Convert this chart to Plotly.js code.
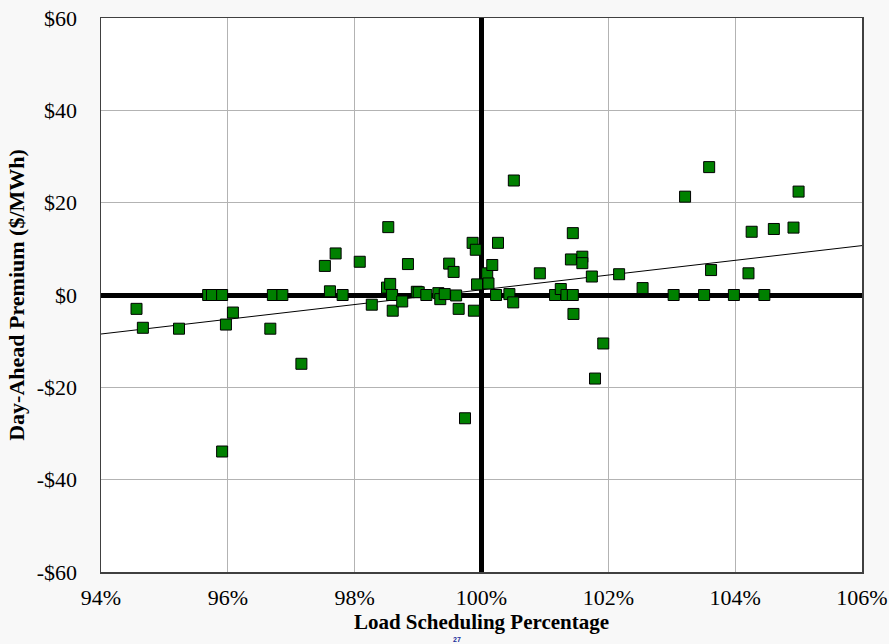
<!DOCTYPE html>
<html>
<head>
<meta charset="utf-8">
<script src="https://cdn.plot.ly/plotly-3.0.1.min.js"></script>
<style>html,body{margin:0;padding:0;background:#f8f8f8;}#chart{width:889px;height:644px;}</style>
</head>
<body>
<div id="chart"></div>
<script>
// Load scheduling percentage (%) for each observation
const loadPct = [94.56, 94.66, 95.23, 95.69, 95.75, 95.91, 95.97, 96.08, 95.91, 96.67,
  96.71, 96.86, 97.16, 97.53, 97.70, 97.61, 97.81, 98.08, 98.27, 98.53,
  98.51, 98.56, 98.59, 98.60, 98.75, 98.84, 98.98, 99.01, 99.13, 99.32,
  99.35, 99.42, 99.49, 99.56, 99.60, 99.64, 99.74, 99.86, 99.88, 99.91,
  99.93, 100.09, 100.11, 100.17, 100.23, 100.26, 100.44, 100.50, 100.51, 100.92,
  101.16, 101.25, 101.34, 101.44, 101.44, 101.41, 101.45, 101.59, 101.59, 101.74,
  101.79, 101.92, 102.17, 102.54, 103.03, 103.21, 103.51, 103.59, 103.62, 103.98,
  104.21, 104.26, 104.46, 104.61, 104.92, 105.00];
// Day-ahead premium ($/MWh)
const premium = [-3.0, -7.1, -7.3, 0, 0, 0, -6.4, -3.8, -33.9, -7.3,
  0, 0, -14.9, 6.3, 9.0, 0.8, 0, 7.2, -2.1, 14.7,
  1.6, 2.4, 0, -3.4, -1.4, 6.7, 0.7, 0.6, 0, 0.4,
  -0.9, 0.2, 6.8, 5.0, -0.1, -3.0, -26.7, 11.3, -3.4, 9.8,
  2.3, 4.7, 2.5, 6.5, 0, 11.3, 0.2, -1.6, 24.8, 4.7,
  0, 1.3, 0, 0, 13.4, 7.7, -4.1, 8.3, 6.9, 4.0,
  -18.1, -10.5, 4.5, 1.5, 0, 21.3, 0, 27.7, 5.4, 0,
  4.7, 13.7, 0, 14.3, 14.6, 22.4];
// Linear trend line endpoints
const trendX = [94, 106];
const trendY = [-8.45, 10.7];
// Reference line at 100% scheduling, spanning the value axis
const refX = [100, 100];
const refY = [-60, 60];
// Axis ticks
const xTickVals = [94, 96, 98, 100, 102, 104, 106];
const xTickText = ["94%", "96%", "98%", "100%", "102%", "104%", "106%"];
const yTickVals = [-60, -40, -20, 0, 20, 40, 60];
const yTickText = ["-$60", "-$40", "-$20", "$0", "$20", "$40", "$60"];

const serif = "Liberation Serif, Times New Roman, serif";

const traces = [
  {x: refX, y: refY, type: 'scatter', mode: 'lines',
   line: {color: '#000000', width: 5}, hoverinfo: 'skip', showlegend: false},
  {x: trendX, y: trendY, type: 'scatter', mode: 'lines',
   line: {color: '#000000', width: 1}, hoverinfo: 'skip', showlegend: false},
  {x: loadPct, y: premium, type: 'scatter', mode: 'markers',
   marker: {symbol: 'square', size: 11, color: '#008000', line: {color: '#000000', width: 1}},
   showlegend: false, cliponaxis: false}
];

const layout = {
  width: 889, height: 644,
  paper_bgcolor: '#f8f8f8', plot_bgcolor: '#ffffff',
  margin: {l: 101, r: 27, t: 18, b: 72},
  showlegend: false,
  font: {family: serif, color: '#000000', size: 22},
  xaxis: {
    range: [94, 106], tickvals: xTickVals, ticktext: xTickText,
    showgrid: true, gridcolor: '#b3b3b3', gridwidth: 1,
    zeroline: false, showline: true, linecolor: '#404040', linewidth: 1.5, mirror: true,
    ticks: '', ticklen: 0, ticklabelstandoff: 5, tickfont: {family: serif, size: 22},
    title: {text: 'Load Scheduling Percentage', font: {family: serif, size: 21, weight: 'bold'}, standoff: 0},
    fixedrange: true
  },
  yaxis: {
    range: [-60, 60], tickvals: yTickVals, ticktext: yTickText,
    showgrid: true, gridcolor: '#b3b3b3', gridwidth: 1,
    zeroline: true, zerolinecolor: '#000000', zerolinewidth: 5,
    showline: true, linecolor: '#404040', linewidth: 1.5, mirror: true,
    ticks: '', ticklen: 0, ticklabelstandoff: 18, tickfont: {family: serif, size: 22},
    title: {text: 'Day-Ahead Premium ($/MWh)', font: {family: serif, size: 22, weight: 'bold'}, standoff: 6},
    fixedrange: true
  },
  annotations: [
    {text: '<b>27</b>', xref: 'paper', yref: 'paper', x: 0.468, y: -0.1299,
     xanchor: 'center', yanchor: 'bottom', showarrow: false, borderpad: 0,
     font: {family: 'Liberation Sans, Arial, sans-serif', size: 7, color: '#1a2f9a'}}
  ]
};

Plotly.newPlot('chart', traces, layout, {displayModeBar: false, staticPlot: true});
</script>
</body>
</html>
